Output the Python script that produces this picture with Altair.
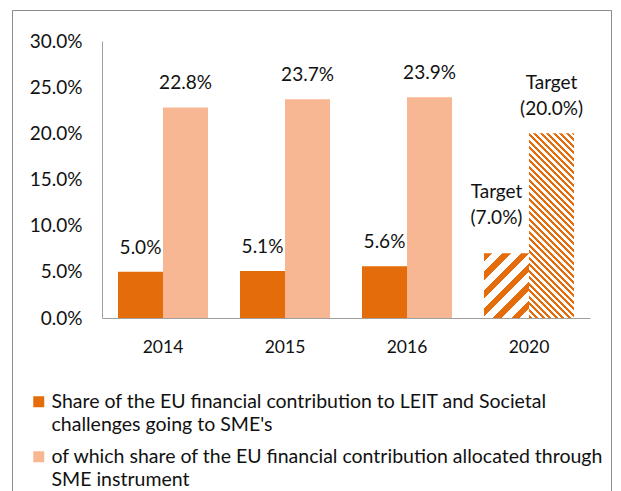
import json
import math
import altair as alt
import pandas as pd

# ---------------- data ----------------
years = ["2014", "2015", "2016", "2020"]
is_target = [False, False, False, True]
sme_share = [5.0, 5.1, 5.6, 7.0]            # dark orange series (%)
instrument_share = [22.8, 23.7, 23.9, 20.0]  # light orange series (%)
legend_lines_a = ["Share of the EU financial contribution to LEIT and Societal",
                  "challenges going to SME's"]
legend_lines_b = ["of which share of the EU financial contribution allocated through",
                  "SME instrument"]
series = [" ".join(legend_lines_a), " ".join(legend_lines_b)]
y_ticks = [0.0, 0.05, 0.10, 0.15, 0.20, 0.25, 0.30]

rows = []
for i, yr in enumerate(years):
    for s, vals in zip(series, [sme_share, instrument_share]):
        v = vals[i]
        lab = f"Target\n({v:.1f}%)" if is_target[i] else f"{v:.1f}%"
        rows.append({"year": yr, "series": s, "value": v / 100.0,
                     "label": lab, "target": is_target[i]})
df = pd.DataFrame(rows)

# ---------------- style ----------------
DARK = "#E46C0A"
LIGHT = "#F8B793"
FONT = "Lato"
TXT = "#111111"
W, H = 488, 277
P_IN, P_OUT = 0.262, 0.131
YMAX = 0.30

step = W / (len(years) - P_IN + 2 * P_OUT)
bar_w = step * (1 - P_IN) / 2


def stripes(w, h, period, frac, rising, color, bg="#FFFFFF"):
    """Linear gradient imitating a diagonal hatch inside a w x h box."""
    L = (w + h) / math.sqrt(2)
    n = L / period
    den = w * w + h * h
    if rising:   # '/' stripes
        lam = (w + h) / den
        x1, y1, x2, y2 = 0.0, 0.0, lam * w, lam * h
    else:        # '\' stripes
        x1, y1 = -h * w / den, h * h / den
        x2, y2 = w * w / den, -w * h / den
    stops = []
    k = 0
    while k / n < 1:
        a = k / n
        b = min((k + frac) / n, 1.0)
        c = min((k + 1) / n, 1.0)
        stops += [{"offset": a, "color": color}, {"offset": b, "color": color},
                  {"offset": b, "color": bg}, {"offset": c, "color": bg}]
        k += 1
    return {"gradient": "linear", "x1": x1, "y1": y1, "x2": x2, "y2": y2,
            "stops": stops}


h_dark = sme_share[3] / 100 / YMAX * H
h_light = instrument_share[3] / 100 / YMAX * H
grad_dark = stripes(bar_w, h_dark, 13.0, 0.45, True, DARK)
grad_light = stripes(bar_w, h_light, 4.6, 0.5, False, DARK)

label_expr = (f"datum.label == {json.dumps(series[0])} ? "
              f"{json.dumps(legend_lines_a)} : {json.dumps(legend_lines_b)}")

x_enc = alt.X("year:N",
              scale=alt.Scale(domain=years, paddingInner=P_IN, paddingOuter=P_OUT),
              axis=alt.Axis(title=None, labelAngle=0, ticks=False, tickSize=0,
                            labelPadding=20, labelFontSize=17.5, labelColor=TXT,
                            domainColor="#A0A0A0", labelFont=FONT))
xo_enc = alt.XOffset("series:N", scale=alt.Scale(domain=series))
y_enc = alt.Y("value:Q", scale=alt.Scale(domain=[0, YMAX]),
              axis=alt.Axis(title=None, values=y_ticks, format=".1%", grid=False,
                            ticks=False, tickSize=0, labelPadding=20,
                            labelFontSize=19, labelColor=TXT,
                            domainColor="#A0A0A0", labelFont=FONT))

base = alt.Chart(df).encode(x=x_enc, xOffset=xo_enc, y=y_enc)

frame = alt.Chart(pd.DataFrame({"f": [0]})).mark_rect(
    fill="transparent", stroke="#8C8C8C", strokeWidth=1
).encode(x=alt.value(-89.5), x2=alt.value(509.5), y=alt.value(-30.5),
         y2=alt.value(452))

bars = base.transform_filter(alt.datum.target == False).mark_bar().encode(
    color=alt.Color("series:N",
                    scale=alt.Scale(domain=series, range=[DARK, LIGHT]),
                    legend=alt.Legend(
                        title=None, orient="none", legendX=-73, legendY=351,
                        direction="vertical", symbolType="square",
                        symbolSize=121, symbolStrokeWidth=0, labelFontSize=19.5,
                        labelFont=FONT, labelColor=TXT, labelLimit=700,
                        labelOffset=3, rowPadding=11, padding=0,
                        labelExpr=label_expr))
)

target_dark = base.transform_filter(
    (alt.datum.target == True) & (alt.datum.series == series[0])
).mark_bar(fill=grad_dark)
target_light = base.transform_filter(
    (alt.datum.target == True) & (alt.datum.series == series[1])
).mark_bar(fill=grad_light)

labels = base.transform_filter(alt.datum.target == False).mark_text(
    dy=-24, baseline="middle", fontSize=19, font=FONT, color=TXT
).encode(text="label:N")

tlab_dark = base.transform_filter(
    (alt.datum.target == True) & (alt.datum.series == series[0])
).mark_text(dy=-61, dx=-10, baseline="middle", fontSize=19, font=FONT,
            color=TXT, lineBreak="\n", lineHeight=26).encode(text="label:N")
tlab_light = base.transform_filter(
    (alt.datum.target == True) & (alt.datum.series == series[1])
).mark_text(dy=-50, baseline="middle", fontSize=19, font=FONT,
            color=TXT, lineBreak="\n", lineHeight=26).encode(text="label:N")

chart = alt.layer(frame, bars, target_dark, target_light, labels,
                  tlab_dark, tlab_light).properties(
    width=W, height=H,
    autosize=alt.AutoSizeParams(type="none"),
    padding={"left": 94, "top": 33, "right": 23, "bottom": 173},
).configure(
    font=FONT,
    style={"guide-label": {"lineHeight": 23}},
).configure_view(stroke="transparent")

chart.save("out.html", embed_options={"renderer": "svg", "actions": False})
